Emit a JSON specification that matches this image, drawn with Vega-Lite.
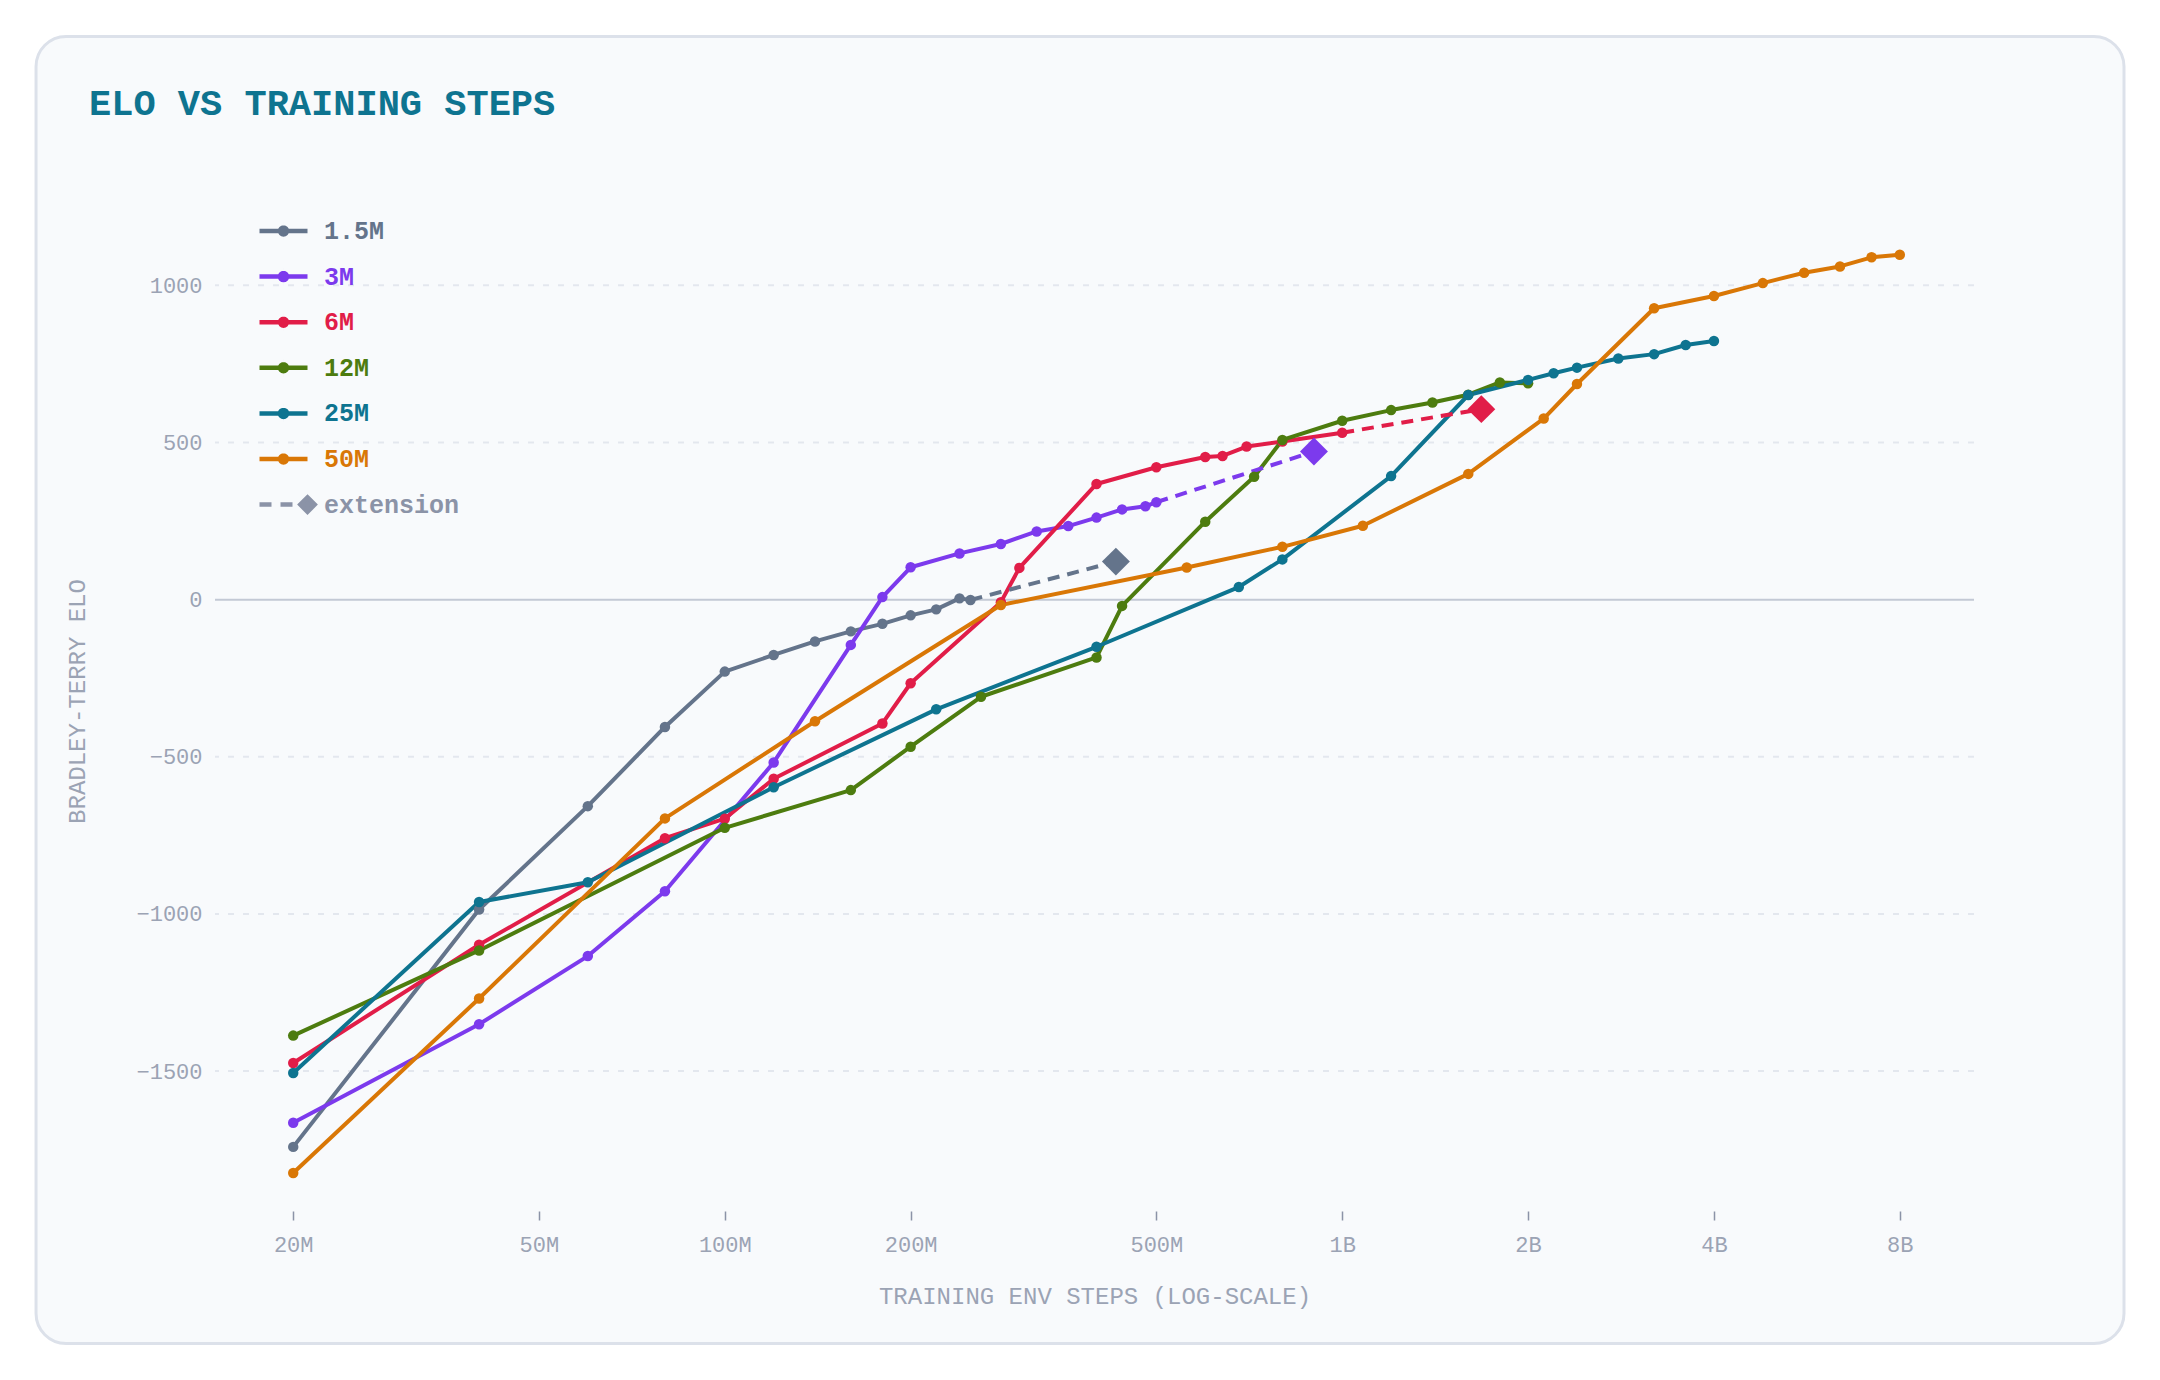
{
  "$schema": "https://vega.github.io/schema/vega-lite/v6.json",
  "width": 1759,
  "height": 1020,
  "autosize": {"type": "none"},
  "padding": {"left": 215, "top": 191, "right": 186, "bottom": 169},
  "background": "#ffffff",
  "title": {
    "text": "ELO VS TRAINING STEPS",
    "anchor": "start",
    "frame": "group",
    "dx": -126,
    "offset": -116.5,
    "baseline": "alphabetic",
    "font": "Liberation Mono",
    "fontSize": 37,
    "fontWeight": "bold",
    "color": "#0e7490"
  },
  "config": {"view": {"stroke": null}, "font": "Liberation Mono"},
  "datasets": {
    "main": [
      {"s": "1.5M", "x": 2e7, "y": -1741}, {"s": "1.5M", "x": 4e7, "y": -986}, {"s": "1.5M", "x": 6e7, "y": -657},
      {"s": "1.5M", "x": 8e7, "y": -405}, {"s": "1.5M", "x": 1e8, "y": -229}, {"s": "1.5M", "x": 1.2e8, "y": -176},
      {"s": "1.5M", "x": 1.4e8, "y": -133}, {"s": "1.5M", "x": 1.6e8, "y": -101}, {"s": "1.5M", "x": 1.8e8, "y": -77},
      {"s": "1.5M", "x": 2e8, "y": -50}, {"s": "1.5M", "x": 2.2e8, "y": -31}, {"s": "1.5M", "x": 2.4e8, "y": 4},
      {"s": "1.5M", "x": 2.5e8, "y": -1},
      {"s": "3M", "x": 2e7, "y": -1664}, {"s": "3M", "x": 4e7, "y": -1351}, {"s": "3M", "x": 6e7, "y": -1134},
      {"s": "3M", "x": 8e7, "y": -928}, {"s": "3M", "x": 1.2e8, "y": -518}, {"s": "3M", "x": 1.6e8, "y": -144},
      {"s": "3M", "x": 1.8e8, "y": 8}, {"s": "3M", "x": 2e8, "y": 103}, {"s": "3M", "x": 2.4e8, "y": 147},
      {"s": "3M", "x": 2.8e8, "y": 177}, {"s": "3M", "x": 3.2e8, "y": 217}, {"s": "3M", "x": 3.6e8, "y": 234},
      {"s": "3M", "x": 4e8, "y": 261}, {"s": "3M", "x": 4.4e8, "y": 287}, {"s": "3M", "x": 4.8e8, "y": 297},
      {"s": "3M", "x": 5e8, "y": 310},
      {"s": "6M", "x": 2e7, "y": -1474}, {"s": "6M", "x": 4e7, "y": -1098}, {"s": "6M", "x": 8e7, "y": -759},
      {"s": "6M", "x": 1e8, "y": -697}, {"s": "6M", "x": 1.2e8, "y": -570}, {"s": "6M", "x": 1.8e8, "y": -394},
      {"s": "6M", "x": 2e8, "y": -266}, {"s": "6M", "x": 2.8e8, "y": -8}, {"s": "6M", "x": 3e8, "y": 101},
      {"s": "6M", "x": 4e8, "y": 368}, {"s": "6M", "x": 5e8, "y": 421}, {"s": "6M", "x": 6e8, "y": 454},
      {"s": "6M", "x": 6.4e8, "y": 457}, {"s": "6M", "x": 7e8, "y": 487}, {"s": "6M", "x": 8e8, "y": 503},
      {"s": "6M", "x": 1e9, "y": 531},
      {"s": "12M", "x": 2e7, "y": -1387}, {"s": "12M", "x": 4e7, "y": -1116}, {"s": "12M", "x": 1e8, "y": -726},
      {"s": "12M", "x": 1.6e8, "y": -606}, {"s": "12M", "x": 2e8, "y": -468}, {"s": "12M", "x": 2.6e8, "y": -309},
      {"s": "12M", "x": 4e8, "y": -184}, {"s": "12M", "x": 4.4e8, "y": -20}, {"s": "12M", "x": 6e8, "y": 248},
      {"s": "12M", "x": 7.2e8, "y": 391}, {"s": "12M", "x": 8e8, "y": 508}, {"s": "12M", "x": 1e9, "y": 569},
      {"s": "12M", "x": 1.2e9, "y": 603}, {"s": "12M", "x": 1.4e9, "y": 627}, {"s": "12M", "x": 1.6e9, "y": 652},
      {"s": "12M", "x": 1.8e9, "y": 691}, {"s": "12M", "x": 2e9, "y": 688},
      {"s": "25M", "x": 2e7, "y": -1506}, {"s": "25M", "x": 4e7, "y": -962}, {"s": "25M", "x": 6e7, "y": -899},
      {"s": "25M", "x": 1.2e8, "y": -597}, {"s": "25M", "x": 2.2e8, "y": -349}, {"s": "25M", "x": 4e8, "y": -150},
      {"s": "25M", "x": 6.8e8, "y": 40}, {"s": "25M", "x": 8e8, "y": 128}, {"s": "25M", "x": 1.2e9, "y": 393},
      {"s": "25M", "x": 1.6e9, "y": 651}, {"s": "25M", "x": 2e9, "y": 699}, {"s": "25M", "x": 2.2e9, "y": 720},
      {"s": "25M", "x": 2.4e9, "y": 738}, {"s": "25M", "x": 2.8e9, "y": 767}, {"s": "25M", "x": 3.2e9, "y": 781},
      {"s": "25M", "x": 3.6e9, "y": 810}, {"s": "25M", "x": 4e9, "y": 823},
      {"s": "50M", "x": 2e7, "y": -1824}, {"s": "50M", "x": 4e7, "y": -1269}, {"s": "50M", "x": 8e7, "y": -696},
      {"s": "50M", "x": 1.4e8, "y": -387}, {"s": "50M", "x": 2.8e8, "y": -17}, {"s": "50M", "x": 5.6e8, "y": 102},
      {"s": "50M", "x": 8e8, "y": 168}, {"s": "50M", "x": 1.08e9, "y": 235}, {"s": "50M", "x": 1.6e9, "y": 400},
      {"s": "50M", "x": 2.12e9, "y": 576}, {"s": "50M", "x": 2.4e9, "y": 686}, {"s": "50M", "x": 3.2e9, "y": 927},
      {"s": "50M", "x": 4e9, "y": 966}, {"s": "50M", "x": 4.8e9, "y": 1007}, {"s": "50M", "x": 5.6e9, "y": 1040},
      {"s": "50M", "x": 6.4e9, "y": 1060}, {"s": "50M", "x": 7.2e9, "y": 1089}, {"s": "50M", "x": 8e9, "y": 1097}
    ],
    "ext": [
      {"s": "1.5M", "x": 2.5e8, "y": -1, "tip": 0}, {"s": "1.5M", "x": 4.3e8, "y": 121, "tip": 1},
      {"s": "3M", "x": 5e8, "y": 310, "tip": 0}, {"s": "3M", "x": 9e8, "y": 471, "tip": 1},
      {"s": "6M", "x": 1e9, "y": 531, "tip": 0}, {"s": "6M", "x": 1.68e9, "y": 606, "tip": 1}
    ],
    "grid": [{"v": -1500}, {"v": -1000}, {"v": -500}, {"v": 500}, {"v": 1000}],
    "zero": [{"v": 0}],
    "card": [{"card": 1}]
  },
  "layer": [
    {
      "data": {"name": "card"},
      "mark": {"type": "rect", "cornerRadius": 30, "fill": "#f8fafc", "stroke": "#dce1ea", "strokeWidth": 3, "clip": false},
      "encoding": {
        "x": {"datum": 7665000, "type": "quantitative", "scale": {"type": "log", "domain": [14940000, 10550000000], "nice": false}},
        "x2": {"datum": 18458000000},
        "y": {"datum": 1791.5, "type": "quantitative", "scale": {"domain": [-1945, 1300], "nice": false, "zero": false}},
        "y2": {"datum": -2366.5}
      }
    },
    {
      "data": {"name": "grid"},
      "mark": {"type": "rule", "stroke": "#e3e7ee", "strokeWidth": 2, "strokeDash": [6, 9]},
      "encoding": {
        "y": {"field": "v", "type": "quantitative", "scale": {"domain": [-1945, 1300], "nice": false, "zero": false}}
      }
    },
    {
      "data": {"name": "zero"},
      "mark": {"type": "rule", "stroke": "#c3c9d5", "strokeWidth": 2},
      "encoding": {
        "y": {"field": "v", "type": "quantitative", "scale": {"domain": [-1945, 1300], "nice": false, "zero": false}}
      }
    },
    {
      "encoding": {
        "x": {
          "field": "x", "type": "quantitative",
          "scale": {"type": "log", "domain": [14940000, 10550000000], "nice": false},
          "axis": {
            "values": [20000000, 50000000, 100000000, 200000000, 500000000, 1000000000, 2000000000, 4000000000, 8000000000],
            "labelExpr": "datum.value >= 1e9 ? format(datum.value / 1e9, 'd') + 'B' : format(datum.value / 1e6, 'd') + 'M'",
            "grid": false, "domain": false, "ticks": true,
            "tickColor": "#8b93a7", "tickSize": 9, "tickWidth": 1.5,
            "labelFont": "Liberation Mono", "labelFontSize": 22, "labelColor": "#9ba3b4", "labelPadding": 14,
            "title": "TRAINING ENV STEPS (LOG-SCALE)",
            "titleFont": "Liberation Mono", "titleFontSize": 24, "titleFontWeight": "normal", "titleColor": "#9ba3b4",
            "titlePadding": 29, "zindex": 1
          }
        },
        "y": {
          "field": "y", "type": "quantitative",
          "scale": {"domain": [-1945, 1300], "nice": false, "zero": false},
          "axis": {
            "values": [-1500, -1000, -500, 0, 500, 1000],
            "format": "d",
            "grid": false, "domain": false, "ticks": false,
            "labelFont": "Liberation Mono", "labelFontSize": 22, "labelColor": "#9ba3b4", "labelPadding": 13,
            "title": "BRADLEY-TERRY ELO",
            "titleFont": "Liberation Mono", "titleFontSize": 24, "titleFontWeight": "normal", "titleColor": "#9ba3b4",
            "titlePadding": 46, "zindex": 1
          }
        },
        "color": {
          "field": "s", "type": "nominal",
          "scale": {
            "domain": ["1.5M", "3M", "6M", "12M", "25M", "50M", "extension"],
            "range": ["#64748b", "#7c3aed", "#e11d48", "#4d7c0f", "#0e7490", "#d97706", "#8b93a7"]
          },
          "legend": {
            "orient": "none", "legendX": 54, "legendY": 25.5, "title": null, "padding": 0,
            "symbolSize": 576, "symbolStrokeWidth": 4.5, "symbolOpacity": 1,
            "symbolType": {"expr": "datum.value === 'extension' ? 'M-2,0H-1M-0.25,0H0.75M2,-0.6L2.6,0L2,0.6L1.4,0Z' : 'M-2,0H2M0.29,0A0.29,0.29,0,1,1,-0.29,0A0.29,0.29,0,1,1,0.29,0ZM0,-0.6h0.001M0,0.6h0.001'"},
            "labelColor": {"expr": "scale('color', datum.value)"},
            "rowPadding": 12.6, "labelOffset": 26,
            "labelFont": "Liberation Mono", "labelFontSize": 25, "labelFontWeight": "bold"
          }
        }
      },
      "layer": [
        {
          "data": {"name": "main"},
          "mark": {"type": "line", "strokeWidth": 4, "strokeJoin": "round", "strokeCap": "round"}
        },
        {
          "data": {"name": "ext"},
          "mark": {"type": "line", "strokeWidth": 4, "strokeDash": [12, 8]}
        },
        {
          "data": {"name": "main"},
          "mark": {"type": "point", "filled": true, "size": 110, "opacity": 1}
        },
        {
          "data": {"name": "ext"},
          "transform": [{"filter": "datum.tip == 1"}],
          "mark": {"type": "point", "shape": "diamond", "filled": true, "size": 780, "opacity": 1}
        }
      ]
    }
  ]
}
